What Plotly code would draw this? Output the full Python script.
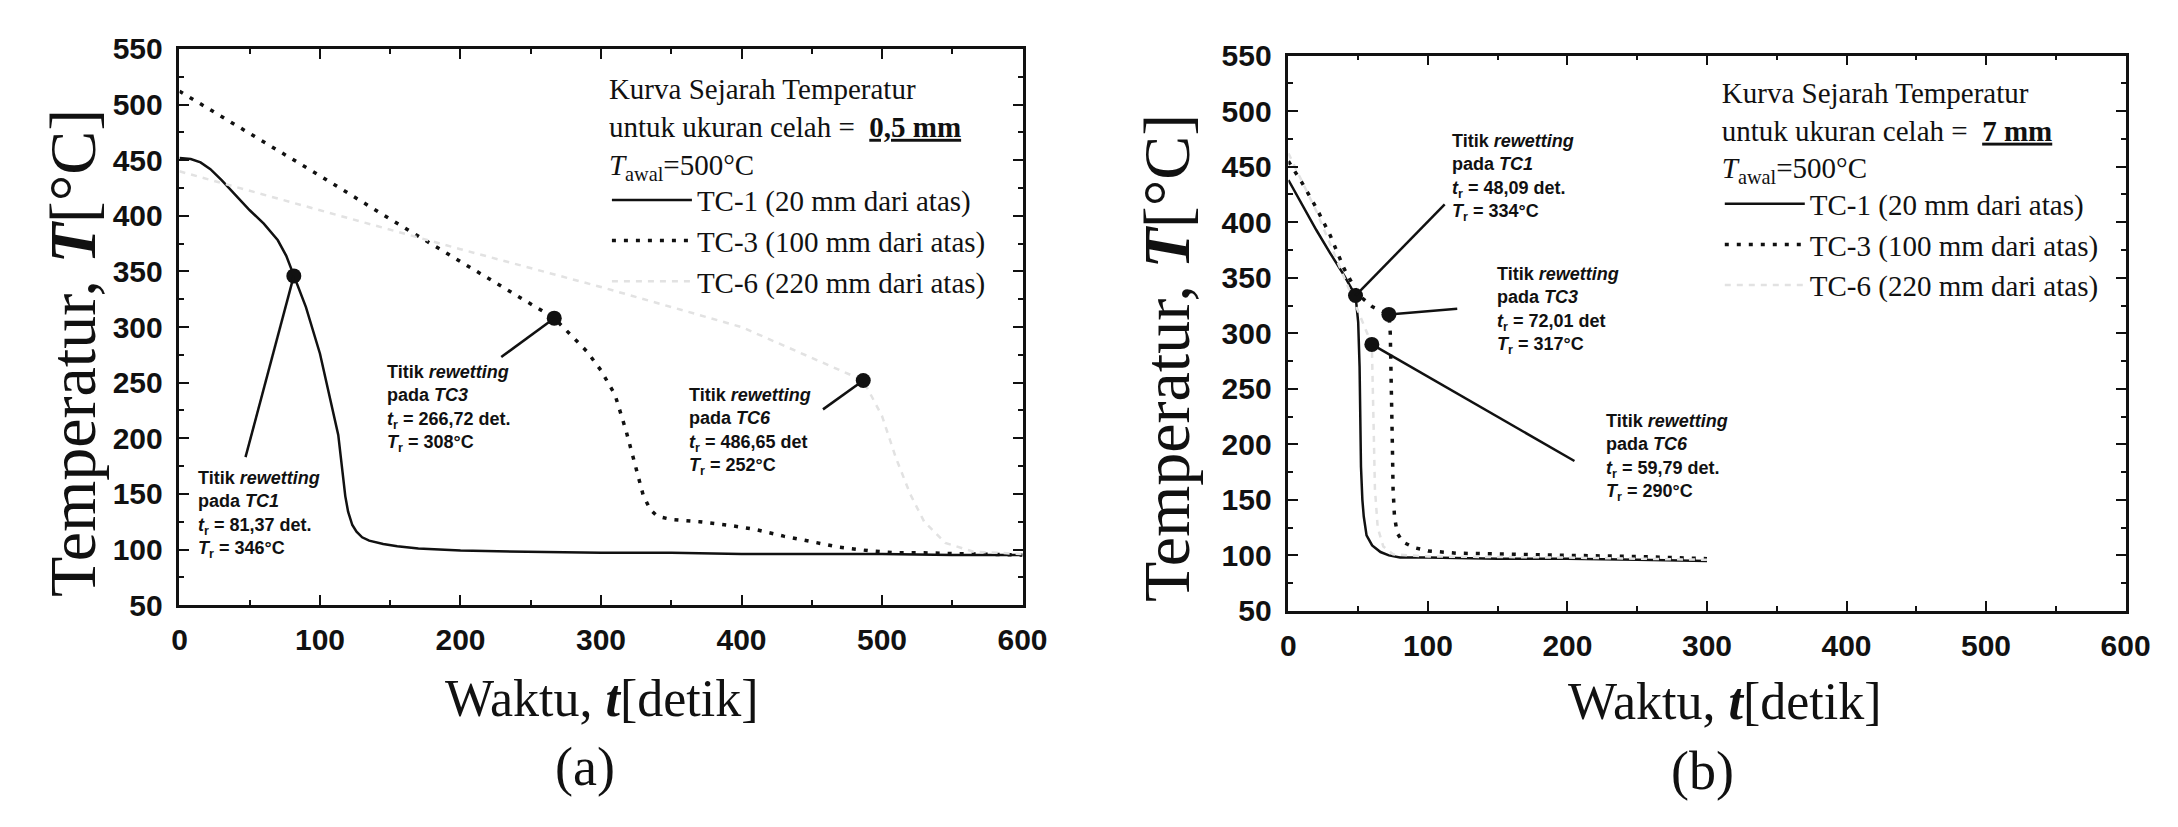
import plotly.graph_objects as go

# ---------------- data: panel (a) gap 0.5 mm ----------------
t_a_tc1 = [0, 8, 15, 22, 30, 40, 50, 60, 70, 76, 81.37, 90, 100, 108, 113, 116, 118, 120, 123, 126, 130, 135, 145, 155, 170, 200, 250, 300, 350, 400, 450, 500, 550, 600]
T_a_tc1 = [452, 451, 448, 442, 432, 418, 405, 393, 378, 364, 346, 318, 276, 232, 203, 170, 148, 134, 122, 116, 111, 108, 105, 103, 101, 99, 98, 97, 97, 96, 96, 96, 95, 95]

t_a_tc3 = [0, 50, 100, 150, 200, 250, 266.72, 280, 290, 300, 310, 318, 325, 330, 335, 340, 350, 370, 390, 410, 430, 450, 470, 490, 510, 530, 560, 600]
T_a_tc3 = [512, 474, 436, 397, 359, 321, 308, 291, 278, 261, 239, 206, 171, 149, 136, 130, 127, 125, 122, 118, 112, 107, 102, 99, 97, 97, 96, 95]

t_a_tc6 = [0, 100, 200, 300, 400, 486.65, 500, 510, 520, 530, 545, 565, 600]
T_a_tc6 = [440, 405, 370, 336, 300, 252, 220, 182, 150, 125, 106, 98, 96]

rw_a_t = [81.37, 266.72, 486.65]
rw_a_T = [346, 308, 252]

# ---------------- data: panel (b) gap 7 mm ----------------
t_b_tc1 = [0, 10, 20, 30, 40, 48.09, 50, 51, 51.5, 52, 53, 54, 56, 60, 66, 72, 80, 100, 150, 200, 250, 300]
T_b_tc1 = [438, 415, 393, 372, 352, 334, 310, 270, 220, 180, 150, 135, 118, 109, 103, 100, 98, 98, 97, 97, 96, 95]

t_b_tc3 = [0, 10, 20, 30, 40, 50, 60, 72.01, 73, 74, 74.5, 75, 76, 78, 82, 90, 100, 120, 150, 200, 250, 300]
T_b_tc3 = [455, 435, 413, 388, 358, 335, 324, 317, 300, 250, 200, 160, 135, 120, 112, 107, 104, 102, 101, 100, 99, 97]

t_b_tc6 = [0, 20, 40, 59.79, 61, 62, 64, 68, 75, 100, 200, 300]
T_b_tc6 = [462, 410, 350, 290, 220, 160, 125, 108, 101, 99, 98, 96]

rw_b_t = [48.09, 72.01, 59.79]
rw_b_T = [334, 317, 290]

x_ticks = [0, 100, 200, 300, 400, 500, 600]
y_ticks = [50, 100, 150, 200, 250, 300, 350, 400, 450, 500, 550]

names = ["TC-1 (20 mm dari atas)", "TC-3 (100 mm dari atas)", "TC-6 (220 mm dari atas)"]

W, H = 2178, 827
SERIF = "Liberation Serif"
SANS = "Liberation Sans"
INK = "#111111"
FAINT = "#e2e2e2"

fig = go.Figure()

def add_panel(xa, ya, leg, t1, T1, t3, T3, t6, T6, rt, rT):
    fig.add_trace(go.Scatter(x=t1, y=T1, mode="lines", name=names[0], xaxis=xa, yaxis=ya, legend=leg,
                             line=dict(color=INK, width=2.5)))
    fig.add_trace(go.Scatter(x=t3, y=T3, mode="lines", name=names[1], xaxis=xa, yaxis=ya, legend=leg,
                             line=dict(color=INK, width=3.5, dash="4px,8px")))
    fig.add_trace(go.Scatter(x=t6, y=T6, mode="lines", name=names[2], xaxis=xa, yaxis=ya, legend=leg,
                             line=dict(color=FAINT, width=2.5, dash="6px,6px")))
    fig.add_trace(go.Scatter(x=rt, y=rT, mode="markers", showlegend=False, xaxis=xa, yaxis=ya,
                             marker=dict(color=INK, size=15)))

add_panel("x", "y", "legend", t_a_tc1, T_a_tc1, t_a_tc3, T_a_tc3, t_a_tc6, T_a_tc6, rw_a_t, rw_a_T)
add_panel("x2", "y2", "legend2", t_b_tc1, T_b_tc1, t_b_tc3, T_b_tc3, t_b_tc6, T_b_tc6, rw_b_t, rw_b_T)

TICKFONT = dict(family=SANS, size=30, color=INK, weight="bold")

def xaxis(domain, anchor):
    return dict(domain=domain, anchor=anchor, range=[0, 600], tickvals=x_ticks,
                ticktext=[str(v) for v in x_ticks], ticks="inside", ticklen=10, tickwidth=2,
                tickcolor=INK, showline=True, linewidth=2.5, linecolor=INK, mirror="ticks",
                showgrid=False, zeroline=False, ticklabelstandoff=6, tickfont=TICKFONT,
                minor=dict(dtick=50, ticks="inside", ticklen=5, tickwidth=2, tickcolor=INK, showgrid=False))

def yaxis(domain, anchor):
    return dict(domain=domain, anchor=anchor, range=[50, 550], tickvals=y_ticks,
                ticktext=[str(v) for v in y_ticks], ticks="inside", ticklen=10, tickwidth=2,
                tickcolor=INK, showline=True, linewidth=2.5, linecolor=INK, mirror="ticks",
                showgrid=False, zeroline=False, ticklabelstandoff=8, tickfont=TICKFONT,
                minor=dict(dtick=25, ticks="inside", ticklen=5, tickwidth=2, tickcolor=INK, showgrid=False))

xa_dom = [166 / W, 1022 / W]
xb_dom = [1292 / W, 2142 / W]
ya_dom = [1 - 605 / H, 1 - 25 / H]
yb_dom = [1 - 611 / H, 1 - 32 / H]

def legend_cfg(px, py, gap):
    return dict(x=px / W, y=1 - py / H, xanchor="left", yanchor="top",
                bgcolor="rgba(0,0,0,0)", borderwidth=0, itemwidth=80,
                font=dict(family=SERIF, size=29, color=INK),
                title=dict(text="Kurva Sejarah Temperatur<br>untuk ukuran celah =  <b><u>" + gap + "</u></b><br><i>T</i><sub>awal</sub>=500°C",
                           font=dict(family=SERIF, size=29, color=INK), side="top"))

# leader lines from each rewetting point to its callout
def leaders(xr, yr, rt, rT, tails):
    return [dict(type="line", xref=xr, yref=yr, x0=rt[i], y0=rT[i], x1=tails[i][0], y1=tails[i][1],
                 line=dict(color=INK, width=2.5)) for i in range(len(rt))]

shapes = leaders("x", "y", rw_a_t, rw_a_T, [(47, 183), (229, 273), (458, 226)])
shapes += leaders("x2", "y2", rw_b_t, rw_b_T, [(112, 416), (121, 322), (205, 185)])

def label(xr, yr, x, y, tc, t, T):
    return dict(xref=xr, yref=yr, x=x, y=y, xanchor="left", yanchor="top", align="left", showarrow=False,
                font=dict(family=SANS, size=18, color=INK),
                text=("<b>Titik <i>rewetting</i></b><br><b>pada <i>" + tc + "</i></b><br>"
                      "<b><i>t</i><sub>r</sub> = " + t + "</b><br><b><i>T</i><sub>r</sub> = " + T + "°C</b>"))

annotations = [
    label("x", "y", 12, 175, "TC1", "81,37 det.", "346"),
    label("x", "y", 146, 270, "TC3", "266,72 det.", "308"),
    label("x", "y", 361, 250, "TC6", "486,65 det", "252"),
    label("x2", "y2", 116, 484, "TC1", "48,09 det.", "334"),
    label("x2", "y2", 148, 364, "TC3", "72,01 det", "317"),
    label("x2", "y2", 226, 232, "TC6", "59,79 det.", "290"),
]

# axis titles and panel letters
ytitle = "Temperatur, <b><i>T</i></b>[°C]"
xtitle = "Waktu, <b><i>t</i></b>[detik]"
def free_text(px, py, text, size, angle=0):
    return dict(xref="paper", yref="paper", x=px / W, y=1 - py / H, text=text, textangle=angle,
                xanchor="center", yanchor="middle", showarrow=False,
                font=dict(family=SERIF, size=size, color=INK))

annotations += [
    free_text(58, 342, ytitle, 66, -90),
    free_text(1168, 347, ytitle, 66, -90),
    free_text(595, 702, xtitle, 52),
    free_text(1735, 706, xtitle, 52),
    free_text(578, 774, "(a)", 54),
    free_text(1712, 778, "(b)", 54),
]

fig.update_layout(
    width=W, height=H, margin=dict(l=0, r=0, t=0, b=0),
    paper_bgcolor="white", plot_bgcolor="white",
    xaxis=xaxis(xa_dom, "y"), yaxis=yaxis(ya_dom, "x"),
    xaxis2=xaxis(xb_dom, "y2"), yaxis2=yaxis(yb_dom, "x2"),
    legend=legend_cfg(600, 38, "0,5 mm"),
    legend2=legend_cfg(1730, 42, "7 mm"),
    annotations=annotations,
    shapes=shapes,
)

fig.write_html("out.html")
